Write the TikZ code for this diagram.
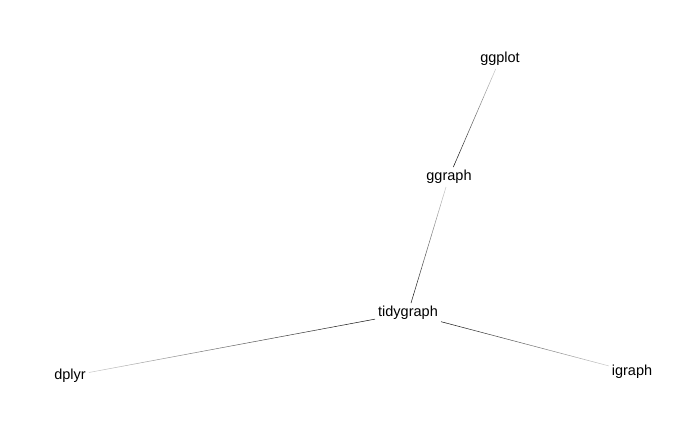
\documentclass[tikz,border=0pt]{standalone}
\usepackage{fontspec}
\setmainfont{Liberation Sans}
\usetikzlibrary{calc}

\begin{document}
\begin{tikzpicture}[
		x=1pt, y=-1pt,
		pkg/.style={inner sep=3pt, font=\fontsize{14.5}{17}\selectfont},
		link/.style={line width=0.5pt},
	]
		\useasboundingbox (0,0) rectangle (700,432);
		\node (ggplot) [pkg] at (500,59) {ggplot};
		\node (ggraph) [pkg] at (449,177) {ggraph};
		\node (tidygraph) [pkg] at (408,313) {tidygraph};
		\node (dplyr) [pkg] at (70,376) {dplyr};
		\node (igraph) [pkg] at (632,372) {igraph};

		% links fade in from the leaf end
		\foreach \from/\to in {ggplot/ggraph, ggraph/tidygraph, dplyr/tidygraph, igraph/tidygraph} {
			\path (\from) -- (\to) coordinate[pos=0] (s) coordinate[pos=1] (e);
			\foreach \i [evaluate=\i as \shade using {int(22+3*\i)}, evaluate=\i as \next using {int(\i+1)}] in {0,...,25}
				\draw[link, black!\shade] ($(s)!\i/26!(e)$) -- ($(s)!\next/26!(e)$);
		}
	\end{tikzpicture}
\end{document}
